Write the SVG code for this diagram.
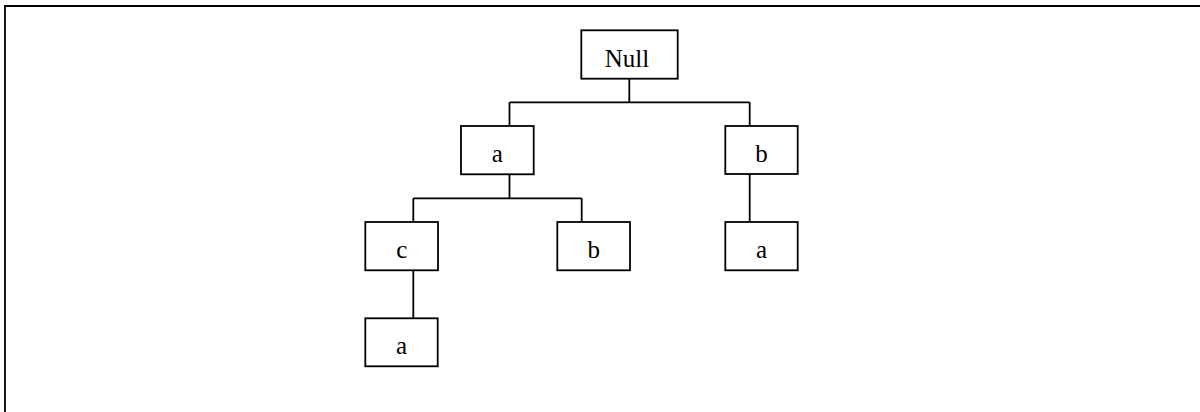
<svg xmlns="http://www.w3.org/2000/svg" width="1200" height="412" viewBox="0 0 1200 412">
  <style>
    .box { fill: #ffffff; stroke: #000000; stroke-width: 1.8; }
    .lbl { font-family: "Liberation Serif", "DejaVu Serif", serif; font-size: 25px; fill: #000000; text-anchor: middle; }
    .wire { fill: none; stroke: #000000; stroke-width: 1.8; }
    .frame { fill: none; stroke: #000000; stroke-width: 1.8; }
  </style>
  <rect x="0" y="0" width="1200" height="412" fill="#ffffff"/>
  <!-- page frame: top and left edges -->
  <path class="frame" d="M5 412 V6 H1200"/>

  <g id="connectors">
    <path class="wire" d="M629.3 79 V102.3"/>
    <path class="wire" d="M509.5 102.3 H749.7"/>
    <path class="wire" d="M509.5 102.3 V126"/>
    <path class="wire" d="M749.7 102.3 V126"/>
    <path class="wire" d="M509.5 174.3 V198.3"/>
    <path class="wire" d="M413.3 198.3 H581.7"/>
    <path class="wire" d="M413.3 198.3 V222"/>
    <path class="wire" d="M581.7 198.3 V222"/>
    <path class="wire" d="M749.7 174 V222"/>
    <path class="wire" d="M413.3 270.3 V318.3"/>
  </g>

  <g id="node-null">
    <rect class="box" x="581.3" y="30.3" width="96.4" height="48.4"/>
    <text class="lbl" x="627" y="67">Null</text>
  </g>
  <g id="node-a1">
    <rect class="box" x="461" y="126" width="72.7" height="48.3"/>
    <text class="lbl" x="497.4" y="162">a</text>
  </g>
  <g id="node-b1">
    <rect class="box" x="725.3" y="126" width="72.4" height="48"/>
    <text class="lbl" x="761.5" y="162">b</text>
  </g>
  <g id="node-c">
    <rect class="box" x="365.3" y="222" width="72.7" height="48.3"/>
    <text class="lbl" x="401.7" y="258">c</text>
  </g>
  <g id="node-b2">
    <rect class="box" x="557.3" y="222" width="72.7" height="48.3"/>
    <text class="lbl" x="593.7" y="258">b</text>
  </g>
  <g id="node-a2">
    <rect class="box" x="725.3" y="222" width="72.4" height="48.3"/>
    <text class="lbl" x="761.5" y="258">a</text>
  </g>
  <g id="node-a3">
    <rect class="box" x="365.3" y="318.3" width="72.4" height="48"/>
    <text class="lbl" x="401.5" y="354">a</text>
  </g>
</svg>
